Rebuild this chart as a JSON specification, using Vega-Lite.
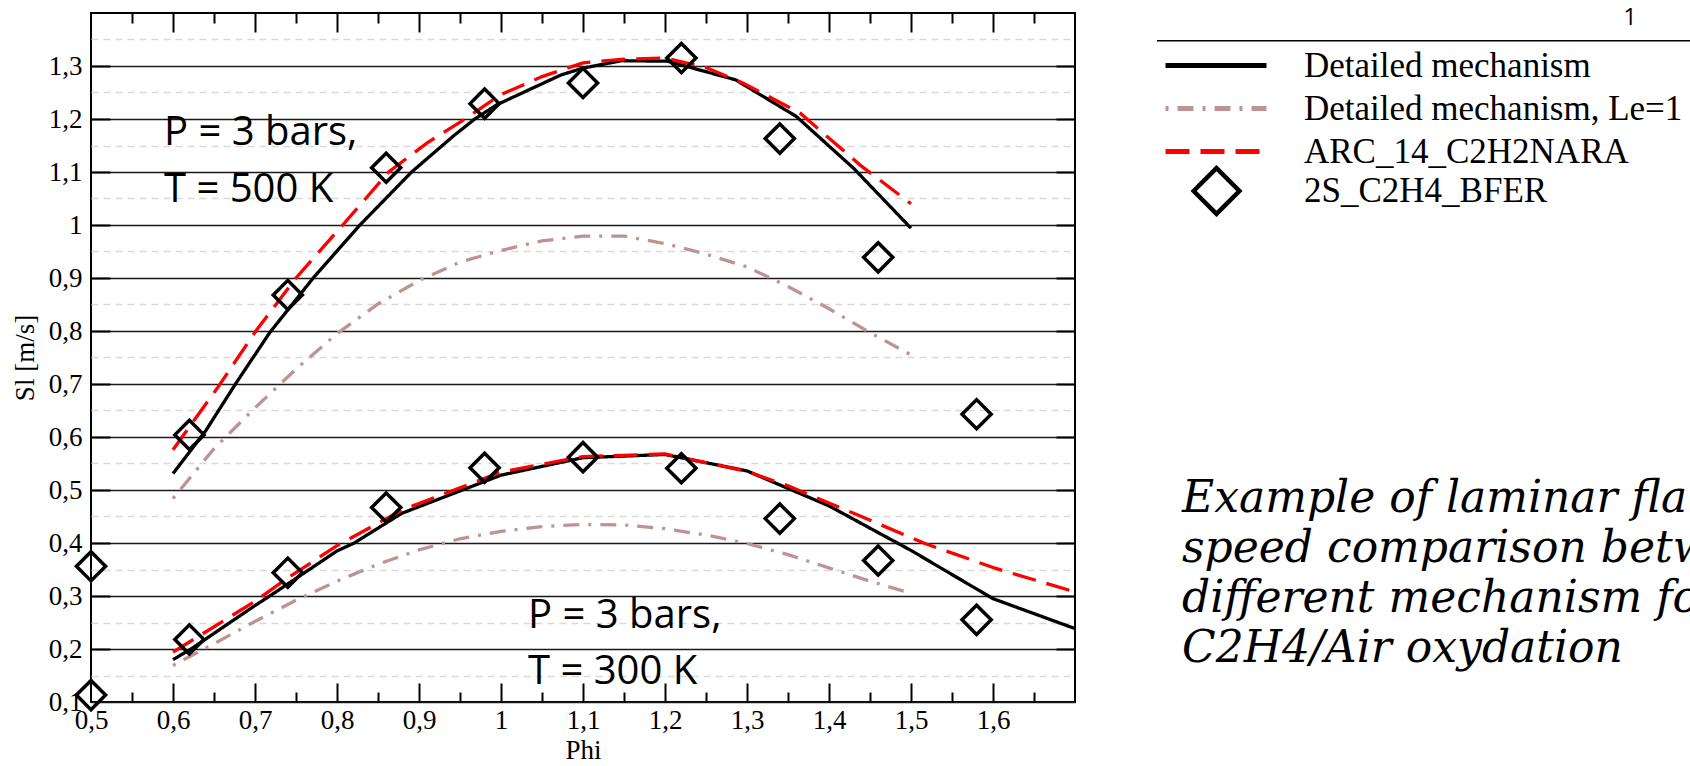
{
  "$schema": "https://vega.github.io/schema/vega-lite/v6.json",
  "width": 984,
  "height": 689,
  "autosize": "none",
  "padding": {"left": 91, "top": 13, "right": 615, "bottom": 64},
  "background": "white",
  "config": {
    "view": {"stroke": "black", "strokeWidth": 2},
    "axis": {
      "labelFont": "Liberation Serif",
      "titleFont": "Liberation Serif",
      "labelFontSize": 27,
      "titleFontSize": 27,
      "labelColor": "black",
      "titleColor": "black",
      "titleFontWeight": "normal",
      "domain": false,
      "grid": false,
      "ticks": false,
      "labels": false,
      "tickColor": "black",
      "labelOverlap": false,
      "labelFlush": false
    }
  },
  "datasets": {
    "curves": [
      {"series": "Detailed mechanism", "T": "500", "phi": 0.6, "sl": 0.531},
      {"series": "Detailed mechanism", "T": "500", "phi": 0.64, "sl": 0.612},
      {"series": "Detailed mechanism", "T": "500", "phi": 0.677, "sl": 0.702},
      {"series": "Detailed mechanism", "T": "500", "phi": 0.718, "sl": 0.797},
      {"series": "Detailed mechanism", "T": "500", "phi": 0.771, "sl": 0.9},
      {"series": "Detailed mechanism", "T": "500", "phi": 0.828, "sl": 1.0},
      {"series": "Detailed mechanism", "T": "500", "phi": 0.891, "sl": 1.1},
      {"series": "Detailed mechanism", "T": "500", "phi": 0.942, "sl": 1.168},
      {"series": "Detailed mechanism", "T": "500", "phi": 0.968, "sl": 1.2},
      {"series": "Detailed mechanism", "T": "500", "phi": 0.995, "sl": 1.227},
      {"series": "Detailed mechanism", "T": "500", "phi": 1.073, "sl": 1.283},
      {"series": "Detailed mechanism", "T": "500", "phi": 1.1, "sl": 1.296},
      {"series": "Detailed mechanism", "T": "500", "phi": 1.147, "sl": 1.31},
      {"series": "Detailed mechanism", "T": "500", "phi": 1.203, "sl": 1.309},
      {"series": "Detailed mechanism", "T": "500", "phi": 1.286, "sl": 1.274},
      {"series": "Detailed mechanism", "T": "500", "phi": 1.36, "sl": 1.205},
      {"series": "Detailed mechanism", "T": "500", "phi": 1.43, "sl": 1.107},
      {"series": "Detailed mechanism", "T": "500", "phi": 1.5, "sl": 0.994},
      {"series": "Detailed mechanism", "T": "300", "phi": 0.6, "sl": 0.18},
      {"series": "Detailed mechanism", "T": "300", "phi": 0.622, "sl": 0.2},
      {"series": "Detailed mechanism", "T": "300", "phi": 0.7, "sl": 0.282},
      {"series": "Detailed mechanism", "T": "300", "phi": 0.718, "sl": 0.3},
      {"series": "Detailed mechanism", "T": "300", "phi": 0.8, "sl": 0.385},
      {"series": "Detailed mechanism", "T": "300", "phi": 0.821, "sl": 0.4},
      {"series": "Detailed mechanism", "T": "300", "phi": 0.879, "sl": 0.456},
      {"series": "Detailed mechanism", "T": "300", "phi": 1.0, "sl": 0.528},
      {"series": "Detailed mechanism", "T": "300", "phi": 1.1, "sl": 0.561},
      {"series": "Detailed mechanism", "T": "300", "phi": 1.2, "sl": 0.567},
      {"series": "Detailed mechanism", "T": "300", "phi": 1.3, "sl": 0.536},
      {"series": "Detailed mechanism", "T": "300", "phi": 1.4, "sl": 0.47},
      {"series": "Detailed mechanism", "T": "300", "phi": 1.5, "sl": 0.386},
      {"series": "Detailed mechanism", "T": "300", "phi": 1.6, "sl": 0.295},
      {"series": "Detailed mechanism", "T": "300", "phi": 1.7, "sl": 0.2385},
      {"series": "Detailed mechanism, Le=1", "T": "500", "phi": 0.6, "sl": 0.484},
      {"series": "Detailed mechanism, Le=1", "T": "500", "phi": 0.65, "sl": 0.578},
      {"series": "Detailed mechanism, Le=1", "T": "500", "phi": 0.7, "sl": 0.655},
      {"series": "Detailed mechanism, Le=1", "T": "500", "phi": 0.75, "sl": 0.728},
      {"series": "Detailed mechanism, Le=1", "T": "500", "phi": 0.8, "sl": 0.795},
      {"series": "Detailed mechanism, Le=1", "T": "500", "phi": 0.85, "sl": 0.851},
      {"series": "Detailed mechanism, Le=1", "T": "500", "phi": 0.9, "sl": 0.895},
      {"series": "Detailed mechanism, Le=1", "T": "500", "phi": 0.95, "sl": 0.93},
      {"series": "Detailed mechanism, Le=1", "T": "500", "phi": 1.0, "sl": 0.952},
      {"series": "Detailed mechanism, Le=1", "T": "500", "phi": 1.05, "sl": 0.97},
      {"series": "Detailed mechanism, Le=1", "T": "500", "phi": 1.1, "sl": 0.979},
      {"series": "Detailed mechanism, Le=1", "T": "500", "phi": 1.15, "sl": 0.979},
      {"series": "Detailed mechanism, Le=1", "T": "500", "phi": 1.2, "sl": 0.965},
      {"series": "Detailed mechanism, Le=1", "T": "500", "phi": 1.25, "sl": 0.945},
      {"series": "Detailed mechanism, Le=1", "T": "500", "phi": 1.3, "sl": 0.921},
      {"series": "Detailed mechanism, Le=1", "T": "500", "phi": 1.35, "sl": 0.884},
      {"series": "Detailed mechanism, Le=1", "T": "500", "phi": 1.4, "sl": 0.842},
      {"series": "Detailed mechanism, Le=1", "T": "500", "phi": 1.45, "sl": 0.797},
      {"series": "Detailed mechanism, Le=1", "T": "500", "phi": 1.5, "sl": 0.755},
      {"series": "Detailed mechanism, Le=1", "T": "300", "phi": 0.6, "sl": 0.169},
      {"series": "Detailed mechanism, Le=1", "T": "300", "phi": 0.65, "sl": 0.21},
      {"series": "Detailed mechanism, Le=1", "T": "300", "phi": 0.7, "sl": 0.252},
      {"series": "Detailed mechanism, Le=1", "T": "300", "phi": 0.75, "sl": 0.292},
      {"series": "Detailed mechanism, Le=1", "T": "300", "phi": 0.8, "sl": 0.328},
      {"series": "Detailed mechanism, Le=1", "T": "300", "phi": 0.85, "sl": 0.36},
      {"series": "Detailed mechanism, Le=1", "T": "300", "phi": 0.9, "sl": 0.387},
      {"series": "Detailed mechanism, Le=1", "T": "300", "phi": 0.95, "sl": 0.408},
      {"series": "Detailed mechanism, Le=1", "T": "300", "phi": 1.0, "sl": 0.422},
      {"series": "Detailed mechanism, Le=1", "T": "300", "phi": 1.05, "sl": 0.431},
      {"series": "Detailed mechanism, Le=1", "T": "300", "phi": 1.1, "sl": 0.435},
      {"series": "Detailed mechanism, Le=1", "T": "300", "phi": 1.15, "sl": 0.434},
      {"series": "Detailed mechanism, Le=1", "T": "300", "phi": 1.2, "sl": 0.427},
      {"series": "Detailed mechanism, Le=1", "T": "300", "phi": 1.25, "sl": 0.415},
      {"series": "Detailed mechanism, Le=1", "T": "300", "phi": 1.3, "sl": 0.399},
      {"series": "Detailed mechanism, Le=1", "T": "300", "phi": 1.35, "sl": 0.378},
      {"series": "Detailed mechanism, Le=1", "T": "300", "phi": 1.4, "sl": 0.353},
      {"series": "Detailed mechanism, Le=1", "T": "300", "phi": 1.45, "sl": 0.328},
      {"series": "Detailed mechanism, Le=1", "T": "300", "phi": 1.5, "sl": 0.305},
      {"series": "ARC_14_C2H2NARA", "T": "500", "phi": 0.6, "sl": 0.576},
      {"series": "ARC_14_C2H2NARA", "T": "500", "phi": 0.653, "sl": 0.69},
      {"series": "ARC_14_C2H2NARA", "T": "500", "phi": 0.701, "sl": 0.8},
      {"series": "ARC_14_C2H2NARA", "T": "500", "phi": 0.75, "sl": 0.9},
      {"series": "ARC_14_C2H2NARA", "T": "500", "phi": 0.807, "sl": 1.0},
      {"series": "ARC_14_C2H2NARA", "T": "500", "phi": 0.863, "sl": 1.1},
      {"series": "ARC_14_C2H2NARA", "T": "500", "phi": 0.91, "sl": 1.155},
      {"series": "ARC_14_C2H2NARA", "T": "500", "phi": 0.956, "sl": 1.2},
      {"series": "ARC_14_C2H2NARA", "T": "500", "phi": 1.0, "sl": 1.246},
      {"series": "ARC_14_C2H2NARA", "T": "500", "phi": 1.05, "sl": 1.28},
      {"series": "ARC_14_C2H2NARA", "T": "500", "phi": 1.1, "sl": 1.306},
      {"series": "ARC_14_C2H2NARA", "T": "500", "phi": 1.15, "sl": 1.313},
      {"series": "ARC_14_C2H2NARA", "T": "500", "phi": 1.2, "sl": 1.315},
      {"series": "ARC_14_C2H2NARA", "T": "500", "phi": 1.25, "sl": 1.297},
      {"series": "ARC_14_C2H2NARA", "T": "500", "phi": 1.295, "sl": 1.268},
      {"series": "ARC_14_C2H2NARA", "T": "500", "phi": 1.365, "sl": 1.211},
      {"series": "ARC_14_C2H2NARA", "T": "500", "phi": 1.438, "sl": 1.113},
      {"series": "ARC_14_C2H2NARA", "T": "500", "phi": 1.5, "sl": 1.04},
      {"series": "ARC_14_C2H2NARA", "T": "300", "phi": 0.6, "sl": 0.194},
      {"series": "ARC_14_C2H2NARA", "T": "300", "phi": 0.7, "sl": 0.29},
      {"series": "ARC_14_C2H2NARA", "T": "300", "phi": 0.739, "sl": 0.333},
      {"series": "ARC_14_C2H2NARA", "T": "300", "phi": 0.8, "sl": 0.395},
      {"series": "ARC_14_C2H2NARA", "T": "300", "phi": 0.879, "sl": 0.462},
      {"series": "ARC_14_C2H2NARA", "T": "300", "phi": 1.0, "sl": 0.534},
      {"series": "ARC_14_C2H2NARA", "T": "300", "phi": 1.1, "sl": 0.563},
      {"series": "ARC_14_C2H2NARA", "T": "300", "phi": 1.2, "sl": 0.568},
      {"series": "ARC_14_C2H2NARA", "T": "300", "phi": 1.3, "sl": 0.535},
      {"series": "ARC_14_C2H2NARA", "T": "300", "phi": 1.35, "sl": 0.508},
      {"series": "ARC_14_C2H2NARA", "T": "300", "phi": 1.43, "sl": 0.456},
      {"series": "ARC_14_C2H2NARA", "T": "300", "phi": 1.517, "sl": 0.399},
      {"series": "ARC_14_C2H2NARA", "T": "300", "phi": 1.6035, "sl": 0.352},
      {"series": "ARC_14_C2H2NARA", "T": "300", "phi": 1.7, "sl": 0.3077}
    ],
    "bfer": [
      {"model": "2S_C2H4_BFER", "phi": 0.62, "sl": 0.604},
      {"model": "2S_C2H4_BFER", "phi": 0.74, "sl": 0.868},
      {"model": "2S_C2H4_BFER", "phi": 0.86, "sl": 1.108},
      {"model": "2S_C2H4_BFER", "phi": 0.98, "sl": 1.229},
      {"model": "2S_C2H4_BFER", "phi": 1.1, "sl": 1.268},
      {"model": "2S_C2H4_BFER", "phi": 1.22, "sl": 1.315},
      {"model": "2S_C2H4_BFER", "phi": 1.34, "sl": 1.163},
      {"model": "2S_C2H4_BFER", "phi": 1.46, "sl": 0.939},
      {"model": "2S_C2H4_BFER", "phi": 1.58, "sl": 0.643},
      {"model": "2S_C2H4_BFER", "phi": 0.5, "sl": 0.356},
      {"model": "2S_C2H4_BFER", "phi": 0.5, "sl": 0.113},
      {"model": "2S_C2H4_BFER", "phi": 0.62, "sl": 0.218},
      {"model": "2S_C2H4_BFER", "phi": 0.74, "sl": 0.344},
      {"model": "2S_C2H4_BFER", "phi": 0.86, "sl": 0.467},
      {"model": "2S_C2H4_BFER", "phi": 0.98, "sl": 0.542},
      {"model": "2S_C2H4_BFER", "phi": 1.1, "sl": 0.562},
      {"model": "2S_C2H4_BFER", "phi": 1.22, "sl": 0.541},
      {"model": "2S_C2H4_BFER", "phi": 1.34, "sl": 0.446},
      {"model": "2S_C2H4_BFER", "phi": 1.46, "sl": 0.367},
      {"model": "2S_C2H4_BFER", "phi": 1.58, "sl": 0.255}
    ],
    "annot": [
      {"label": "P = 3 bars,", "phi": 0.589, "sl": 1.151},
      {"label": "T = 500 K", "phi": 0.589, "sl": 1.044},
      {"label": "P = 3 bars,", "phi": 1.033, "sl": 0.239},
      {"label": "T = 300 K", "phi": 1.033, "sl": 0.134}
    ],
    "caption": [
      {"label": "Example of laminar flame", "phi": 1.8305, "sl": 0.4585},
      {"label": "speed comparison between", "phi": 1.8305, "sl": 0.3642},
      {"label": "different mechanism for", "phi": 1.8305, "sl": 0.2698},
      {"label": "C2H4/Air oxydation", "phi": 1.8305, "sl": 0.1755}
    ],
    "page": [
      {"label": "1", "phi": 2.377, "sl": 1.3906}
    ],
    "divider": [
      {"phi": 1.8, "phi2": 2.45, "sl": 1.3477}
    ]
  },
  "layer": [
    {
      "data": {"name": "curves"},
      "mark": {"type": "line", "strokeWidth": 3.3},
      "encoding": {
        "x": {
          "field": "phi", "type": "quantitative",
          "scale": {"domain": [0.5, 1.7], "nice": false, "zero": false},
          "axis": {
            "orient": "bottom",
            "values": [0.5, 0.6, 0.7, 0.8, 0.9, 1, 1.1, 1.2, 1.3, 1.4, 1.5, 1.6],
            "labels": true,
            "labelExpr": "datum.value == 1 ? '1' : replace(format(datum.value, '.1f'), '.', ',')",
            "labelPadding": 5,
            "title": "Phi",
            "titlePadding": 4
          }
        },
        "y": {
          "field": "sl", "type": "quantitative",
          "scale": {"domain": [0.1, 1.4], "nice": false, "zero": false},
          "axis": {
            "orient": "left",
            "values": [0.1, 0.2, 0.3, 0.4, 0.5, 0.6, 0.7, 0.8, 0.9, 1, 1.1, 1.2, 1.3],
            "labels": true,
            "labelExpr": "datum.value == 1 ? '1' : replace(format(datum.value, '.1f'), '.', ',')",
            "labelPadding": 9,
            "title": "Sl [m/s]",
            "titlePadding": 9,
            "grid": true,
            "gridColor": "#1a1a1a",
            "gridWidth": 1.4
          }
        },
        "color": {
          "field": "series", "type": "nominal",
          "scale": {"domain": ["Detailed mechanism", "Detailed mechanism, Le=1", "ARC_14_C2H2NARA"], "range": ["#000000", "#bf9393", "#ff0000"]},
          "legend": {
            "title": null, "orient": "none", "legendX": 1072, "legendY": 35, "padding": 0,
            "symbolType": "stroke", "symbolSize": 10201, "symbolStrokeWidth": 5,
            "labelFont": "Liberation Serif", "labelFontSize": 35, "labelColor": "black", "labelLimit": 800,
            "labelOffset": 35, "rowPadding": 7, "clipHeight": 35,
            "encode": {"symbols": {"update": {"strokeWidth": {"value": 5}, "strokeDash": {"signal": "datum.value === 'ARC_14_C2H2NARA' ? [36,17] : (datum.value === 'Detailed mechanism, Le=1' ? [5,16,27,16] : [1,0])"}}}}
          }
        },
        "strokeDash": {
          "field": "series", "type": "nominal",
          "scale": {"domain": ["Detailed mechanism", "Detailed mechanism, Le=1", "ARC_14_C2H2NARA"], "range": [[1, 0], [3, 9, 16, 9], [24, 11]]},
          "legend": {
            "title": null, "orient": "none", "legendX": 1072, "legendY": 35, "padding": 0,
            "symbolType": "stroke", "symbolSize": 10201, "symbolStrokeWidth": 5,
            "labelFont": "Liberation Serif", "labelFontSize": 35, "labelColor": "black", "labelLimit": 800,
            "labelOffset": 35, "rowPadding": 7, "clipHeight": 35,
            "encode": {"symbols": {"update": {"strokeWidth": {"value": 5}, "strokeDash": {"signal": "datum.value === 'ARC_14_C2H2NARA' ? [36,17] : (datum.value === 'Detailed mechanism, Le=1' ? [5,16,27,16] : [1,0])"}}}}
          }
        },
        "detail": {"field": "T", "type": "nominal"}
      }
    },
    {
      "data": {"name": "bfer"},
      "mark": {"type": "point", "filled": false, "size": 850, "strokeWidth": 3.5, "color": "black", "opacity": 1, "clip": false},
      "encoding": {
        "x": {
          "field": "phi", "type": "quantitative",
          "axis": {"orient": "top", "values": [0.6, 0.7, 0.8, 0.9, 1, 1.1, 1.2, 1.3, 1.4, 1.5, 1.6], "ticks": true, "tickSize": -19, "tickWidth": 2, "title": null}
        },
        "y": {
          "field": "sl", "type": "quantitative",
          "axis": {"orient": "right", "values": [0.2, 0.3, 0.4, 0.5, 0.6, 0.7, 0.8, 0.9, 1, 1.1, 1.2, 1.3], "ticks": true, "tickSize": -19, "tickWidth": 2, "title": null}
        },
        "shape": {
          "field": "model", "type": "nominal",
          "scale": {"domain": ["2S_C2H4_BFER"], "range": ["diamond"]},
          "legend": {
            "title": null, "orient": "none", "legendX": 1100, "legendY": 152, "padding": 0,
            "symbolSize": 2100, "symbolStrokeWidth": 4.5, "symbolStrokeColor": "black", "symbolFillColor": "transparent",
            "labelFont": "Liberation Serif", "labelFontSize": 35, "labelColor": "black", "labelLimit": 800,
            "labelOffset": 62, "clipHeight": 52
          }
        }
      }
    },
    {
      "data": {"name": "annot"},
      "mark": {"type": "text", "font": "Open Sans", "fontSize": 40, "align": "left", "baseline": "alphabetic", "color": "black"},
      "encoding": {
        "x": {
          "field": "phi", "type": "quantitative",
          "axis": {"orient": "bottom", "values": [0.55, 0.65, 0.75, 0.85, 0.95, 1.05, 1.15, 1.25, 1.35, 1.45, 1.55, 1.65], "ticks": true, "tickSize": -10, "tickWidth": 2, "title": null}
        },
        "y": {
          "field": "sl", "type": "quantitative",
          "axis": {"orient": "left", "values": [0.15, 0.25, 0.35, 0.45, 0.55, 0.65, 0.75, 0.85, 0.95, 1.05, 1.15, 1.25, 1.35], "grid": true, "gridColor": "#d9d9d9", "gridDash": [7, 5], "gridWidth": 1.5, "title": null}
        },
        "text": {"field": "label", "type": "nominal"}
      }
    },
    {
      "data": {"name": "caption"},
      "mark": {"type": "text", "font": "DejaVu Serif", "fontStyle": "italic", "fontSize": 44, "align": "left", "baseline": "alphabetic", "color": "black", "clip": false},
      "encoding": {
        "x": {
          "field": "phi", "type": "quantitative",
          "axis": {"orient": "top", "values": [0.55, 0.65, 0.75, 0.85, 0.95, 1.05, 1.15, 1.25, 1.35, 1.45, 1.55, 1.65], "ticks": true, "tickSize": -10, "tickWidth": 2, "title": null}
        },
        "y": {
          "field": "sl", "type": "quantitative",
          "axis": {"orient": "left", "values": [0.2, 0.3, 0.4, 0.5, 0.6, 0.7, 0.8, 0.9, 1, 1.1, 1.2, 1.3], "ticks": true, "tickSize": -19, "tickWidth": 2, "title": null}
        },
        "text": {"field": "label", "type": "nominal"}
      }
    },
    {
      "data": {"name": "page"},
      "mark": {"type": "text", "font": "Open Sans", "fontSize": 23, "align": "center", "baseline": "middle", "color": "black", "clip": false},
      "encoding": {
        "x": {
          "field": "phi", "type": "quantitative",
          "axis": {"orient": "bottom", "values": [0.6, 0.7, 0.8, 0.9, 1, 1.1, 1.2, 1.3, 1.4, 1.5, 1.6], "ticks": true, "tickSize": -19, "tickWidth": 2, "title": null}
        },
        "y": {"field": "sl", "type": "quantitative", "axis": null},
        "text": {"field": "label", "type": "nominal"}
      }
    },
    {
      "data": {"name": "divider"},
      "mark": {"type": "rule", "strokeWidth": 1.5, "color": "black", "clip": false},
      "encoding": {
        "x": {"field": "phi", "type": "quantitative", "axis": null},
        "x2": {"field": "phi2"},
        "y": {"field": "sl", "type": "quantitative", "axis": null}
      }
    }
  ],
  "resolve": {"axis": {"x": "independent", "y": "independent"}}
}
